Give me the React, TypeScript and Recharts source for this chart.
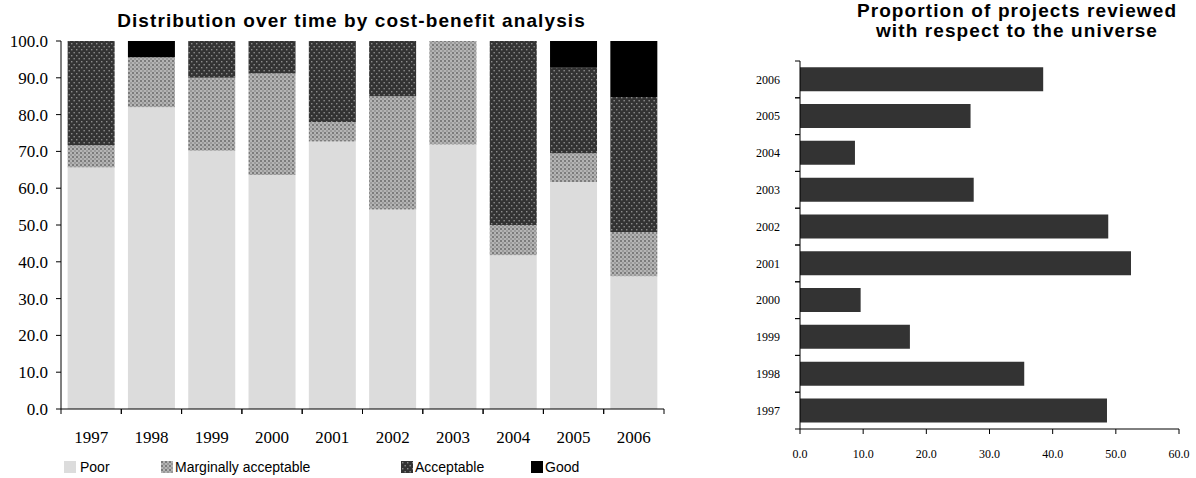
import React from "react";
import { BarChart, Bar, XAxis, YAxis } from "recharts";

const years = ["1997", "1998", "1999", "2000", "2001", "2002", "2003", "2004", "2005", "2006"];
const poor = [65.6, 82.0, 70.2, 63.6, 72.7, 54.2, 71.9, 41.8, 61.7, 36.1];
const marginal = [6.1, 13.6, 19.8, 27.6, 5.3, 30.8, 28.1, 8.2, 7.8, 12.0];
const acceptable = [28.3, 0, 10.0, 8.8, 22.0, 15.0, 0, 50.0, 23.2, 36.7];
const good = [0, 4.4, 0, 0, 0, 0, 0, 0, 7.3, 15.2];

const reviewedYears = ["1997", "1998", "1999", "2000", "2001", "2002", "2003", "2004", "2005", "2006"];
const reviewed = [48.6, 35.5, 17.4, 9.6, 52.4, 48.8, 27.5, 8.7, 27.0, 38.5];

const leftTicks = [0, 10, 20, 30, 40, 50, 60, 70, 80, 90, 100];
const rightTicks = [0, 10, 20, 30, 40, 50, 60];

const legendItems = [
  { name: "Poor", key: "poor", x: 64 },
  { name: "Marginally acceptable", key: "marginal", x: 161 },
  { name: "Acceptable", key: "acceptable", x: 401 },
  { name: "Good", key: "good", x: 531 },
];

const leftData = years.map((y, i) => ({
  year: y,
  poor: poor[i],
  marginal: marginal[i],
  acceptable: acceptable[i],
  good: good[i],
}));
const rightData = reviewedYears.map((y, i) => ({ year: y, value: reviewed[i] }));

const SERIF = "'Liberation Serif', 'Times New Roman', serif";
const SANS = "'Liberation Sans', Arial, sans-serif";

const LEFT_W = 680;
const LEFT_PLOT_W = 603;
const LEFT_BAND = LEFT_PLOT_W / years.length;
const RIGHT_PLOT_H = 368;
const RIGHT_BAND = RIGHT_PLOT_H / reviewedYears.length;

const Patterns = ({ prefix }: { prefix: string }) => (
  <defs>
    <pattern id={`${prefix}acc`} width="5" height="6" patternUnits="userSpaceOnUse">
      <rect width="5" height="6" fill="#333333" />
      <rect x="1" y="1" width="1.4" height="1.4" fill="#8c8c8c" />
      <rect x="3.5" y="4" width="1.4" height="1.4" fill="#8c8c8c" />
    </pattern>
    <pattern id={`${prefix}marg`} width="4" height="4" patternUnits="userSpaceOnUse">
      <rect width="4" height="4" fill="#b4b4b4" />
      <rect x="0" y="0" width="2" height="2" fill="#7c7c7c" />
      <rect x="2" y="2" width="2" height="2" fill="#9a9a9a" />
    </pattern>
  </defs>
);

const fillFor = (key: string, prefix: string) => {
  if (key === "poor") return "#dcdcdc";
  if (key === "marginal") return `url(#${prefix}marg)`;
  if (key === "acceptable") return `url(#${prefix}acc)`;
  return "#000000";
};

const LeftXTick = (props: any) => {
  const { x, y, payload } = props;
  const h = LEFT_BAND / 2;
  return (
    <g>
      <line x1={x - h} x2={x - h} y1={y} y2={y + 5} stroke="#000" strokeWidth={1} />
      <line x1={x + h} x2={x + h} y1={y} y2={y + 5} stroke="#000" strokeWidth={1} />
      <text x={x} y={y + 28} dy="0.355em" textAnchor="middle" fontFamily={SERIF} fontSize={17} fill="#000">
        {payload.value}
      </text>
    </g>
  );
};

const RightYTick = (props: any) => {
  const { x, y, payload } = props;
  const h = RIGHT_BAND / 2;
  return (
    <g>
      <line x1={x - 5} x2={x} y1={y - h} y2={y - h} stroke="#000" strokeWidth={1} />
      <line x1={x - 5} x2={x} y1={y + h} y2={y + h} stroke="#000" strokeWidth={1} />
      <text x={x - 20} y={y} dy="0.355em" textAnchor="end" fontFamily={SERIF} fontSize={12} fill="#000">
        {payload.value}
      </text>
    </g>
  );
};

const titleStyle: React.CSSProperties = {
  position: "absolute",
  textAlign: "center",
  fontFamily: SANS,
  fontWeight: "bold",
  fontSize: 19,
  letterSpacing: 1.1,
  lineHeight: "20px",
  color: "#000",
  whiteSpace: "nowrap",
};

export default function App() {
  return (
    <div style={{ position: "absolute", left: 0, top: 0, width: 1196, height: 478, background: "#fff" }}>
      <div style={{ ...titleStyle, left: 0, width: 703, top: 11 }}>
        Distribution over time by cost-benefit analysis
      </div>
      <div style={{ ...titleStyle, left: 817, width: 400, top: 1 }}>
        Proportion of projects reviewed
        <br />
        with respect to the universe
      </div>

      <div style={{ position: "absolute", left: 0, top: 0 }}>
        <BarChart
          width={LEFT_W}
          height={478}
          data={leftData}
          margin={{ top: 41, right: 16, bottom: 0, left: 0 }}
          barCategoryGap="11%"
        >
          <Patterns prefix="L" />
          <XAxis
            dataKey="year"
            type="category"
            height={69}
            tickLine={false}
            tickSize={0}
            tickMargin={0}
            axisLine={{ stroke: "#000" }}
            tick={<LeftXTick />}
            interval={0}
          />
          <YAxis
            type="number"
            domain={[0, 100]}
            ticks={leftTicks}
            width={61}
            tickSize={5}
            tickMargin={8}
            axisLine={{ stroke: "#000" }}
            tickLine={{ stroke: "#000" }}
            tickFormatter={(v: number) => v.toFixed(1)}
            tick={{ fontFamily: SERIF, fontSize: 17, fill: "#000" }}
            interval={0}
          />
          <Bar dataKey="poor" stackId="a" fill={fillFor("poor", "L")} isAnimationActive={false} />
          <Bar dataKey="marginal" stackId="a" fill={fillFor("marginal", "L")} isAnimationActive={false} />
          <Bar dataKey="acceptable" stackId="a" fill={fillFor("acceptable", "L")} isAnimationActive={false} />
          <Bar dataKey="good" stackId="a" fill={fillFor("good", "L")} isAnimationActive={false} />
        </BarChart>
      </div>

      {legendItems.map((it) => (
        <div
          key={it.key}
          style={{
            position: "absolute",
            left: it.x,
            top: 459,
            height: 16,
            display: "flex",
            alignItems: "center",
            fontFamily: SANS,
            fontSize: 14,
            color: "#000",
            whiteSpace: "nowrap",
          }}
        >
          <svg width={12} height={12} style={{ display: "block", marginRight: it.key === "poor" ? 4 : 2 }}>
            <Patterns prefix={`G${it.key}`} />
            <rect width={12} height={12} fill={fillFor(it.key, `G${it.key}`)} />
          </svg>
          <span>{it.name}</span>
        </div>
      ))}

      <div style={{ position: "absolute", left: 720, top: 0 }}>
        <BarChart
          width={476}
          height={478}
          data={rightData}
          layout="vertical"
          margin={{ top: 61, right: 17, bottom: 0, left: 0 }}
          barCategoryGap="17%"
        >
          <XAxis
            type="number"
            domain={[0, 60]}
            ticks={rightTicks}
            height={49}
            tickSize={5}
            tickMargin={15}
            axisLine={{ stroke: "#000" }}
            tickLine={{ stroke: "#000" }}
            tickFormatter={(v: number) => v.toFixed(1)}
            tick={{ fontFamily: SERIF, fontSize: 12, fill: "#000" }}
            interval={0}
          />
          <YAxis
            type="category"
            dataKey="year"
            reversed
            width={80}
            tickLine={false}
            tickSize={0}
            tickMargin={0}
            axisLine={{ stroke: "#000" }}
            tick={<RightYTick />}
            interval={0}
          />
          <Bar dataKey="value" fill="#333333" isAnimationActive={false} />
        </BarChart>
      </div>
    </div>
  );
}
